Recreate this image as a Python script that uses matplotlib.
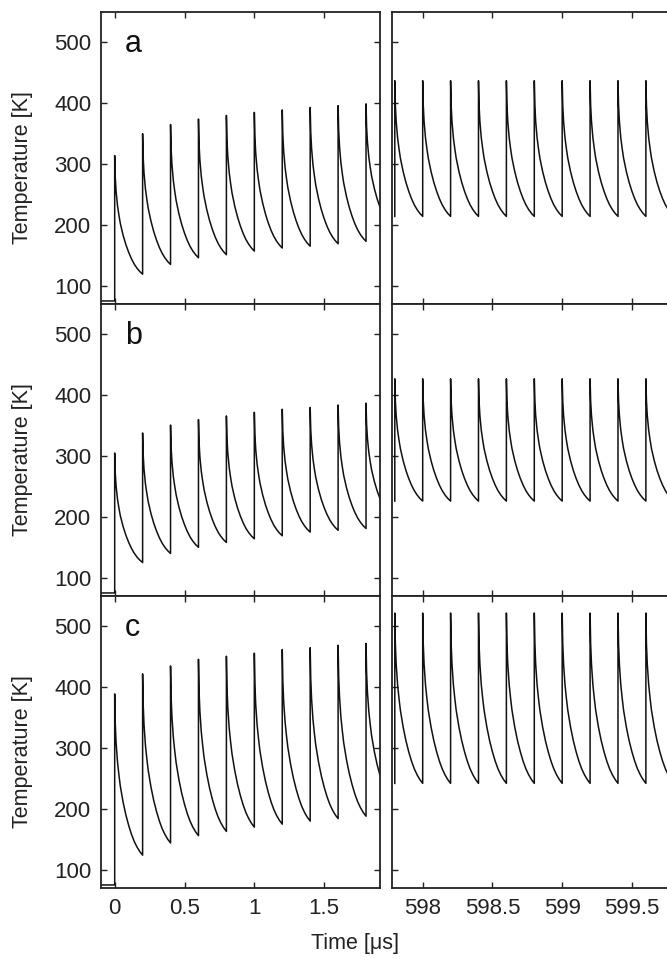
import numpy as np
import matplotlib
matplotlib.use('Agg')
import matplotlib.pyplot as plt

plt.rcParams['font.family'] = ['Liberation Sans', 'DejaVu Sans']

# ---------------- data ----------------
period = 0.2            # pulse period [us]
T_initial = 75          # temperature before first pulse [K]

# left panels (first pulses starting at t = 0)
left_pulse_times = [0.0, 0.2, 0.4, 0.6, 0.8, 1.0, 1.2, 1.4, 1.6, 1.8]
peaks_a = [314, 350, 365, 374, 380, 385, 389, 393, 396, 399]
mins_a = [119, 135, 146, 151, 157, 162, 165, 169, 173]
end_a = 229
peaks_b = [305, 338, 351, 360, 366, 372, 377, 380, 384, 387]
mins_b = [125, 140, 150, 158, 164, 169, 175, 178, 181]
end_b = 230
peaks_c = [389, 422, 435, 446, 451, 456, 462, 465, 469, 472]
mins_c = [124, 144, 156, 163, 170, 175, 180, 184, 188]
end_c = 255
left_end_time = 1.9

# right panels (steady state, ~600 us)
right_pulse_times = [597.8, 598.0, 598.2, 598.4, 598.6, 598.8, 599.0, 599.2, 599.4, 599.6]
ss_peaks = [437, 427, 522]
ss_mins = [214, 226, 242]

# normalised cooling profile within one period (read from one cycle)
decay_frac = [0, 0.02, 0.05, 0.1, 0.15, 0.2, 0.3, 0.4, 0.5, 0.6, 0.7, 0.8, 0.9, 1.0]
decay_norm = [1, 0.82, 0.70, 0.58, 0.50, 0.43, 0.33, 0.25, 0.185, 0.13, 0.085, 0.05, 0.022, 0]

panel_letters = ['a', 'b', 'c']
yticks = [100, 200, 300, 400, 500]
left_xticks = [0, 0.5, 1, 1.5]
left_xticklabels = ['0', '0.5', '1', '1.5']
right_xticks = [598, 598.5, 599, 599.5]
right_xticklabels = ['598', '598.5', '599', '599.5']

# ---------------- build curves ----------------
frac = np.array(decay_frac)
norm = np.array(decay_norm)


def left_curve(peaks, mins, end_val):
    xs = [-0.1, left_pulse_times[0]]
    ys = [T_initial, T_initial]
    for k, tk in enumerate(left_pulse_times):
        if k < len(mins):
            xs += list(tk + frac * period)
            ys += list(mins[k] + (peaks[k] - mins[k]) * norm)
        else:
            e = (left_end_time - tk) / period
            fe = np.interp(e, frac, norm)
            xs += list(tk + frac * period)
            ys += list(end_val + (peaks[k] - end_val) * (norm - fe) / (1 - fe))
    return np.array(xs), np.array(ys)


def right_curve(peak, mn):
    xs = [right_pulse_times[0]]
    ys = [mn]
    for tk in right_pulse_times:
        xs += list(tk + frac * period)
        ys += list(mn + (peak - mn) * norm)
    return np.array(xs), np.array(ys)


left_data = [(peaks_a, mins_a, end_a), (peaks_b, mins_b, end_b), (peaks_c, mins_c, end_c)]

# ---------------- figure ----------------
W, H = 667, 958
fig = plt.figure(figsize=(W / 100, H / 100), dpi=100)

top0 = 12
row_h = 292
ax_w = 279
lx0 = 101
rx0 = 392

line_kw = dict(color='#111111', lw=1.1)

for i in range(3):
    bottom = H - (top0 + row_h * (i + 1))
    axl = fig.add_axes([lx0 / W, bottom / H, ax_w / W, row_h / H])
    axr = fig.add_axes([rx0 / W, bottom / H, ax_w / W, row_h / H])

    x, y = left_curve(*left_data[i])
    axl.plot(x, y, **line_kw)
    xr, yr = right_curve(ss_peaks[i], ss_mins[i])
    axr.plot(xr, yr, **line_kw)

    axl.set_xlim(-0.098, 1.9)
    axr.set_xlim(597.78, 599.78)
    for ax in (axl, axr):
        ax.set_ylim(70, 550)
        ax.set_yticks(yticks)
        ax.tick_params(direction='in', top=True, right=True, length=4, width=1,
                       labelsize=16, pad=7, colors='#222222')
        for sp in ax.spines.values():
            sp.set_linewidth(1.3)
            sp.set_color('#222222')
    axl.set_xticks(left_xticks)
    axr.set_xticks(right_xticks)
    axr.tick_params(labelleft=False, right=False)
    if i == 2:
        axl.set_xticklabels(left_xticklabels)
        axr.set_xticklabels(right_xticklabels)
    else:
        axl.tick_params(labelbottom=False)
        axr.tick_params(labelbottom=False)

    axl.set_ylabel('Temperature [K]', fontsize=15.5, color='#222222')
    axl.yaxis.set_label_coords(-0.244, 0.467)
    axl.text(0.085, 0.89, panel_letters[i], transform=axl.transAxes,
             fontsize=22, va='center', ha='left', color='#111111')

fig.text(355 / W, 1 - 944 / H, 'Time [μs]', ha='center', va='center',
         fontsize=15.5, color='#222222')

fig.savefig('out.png', dpi=100)
